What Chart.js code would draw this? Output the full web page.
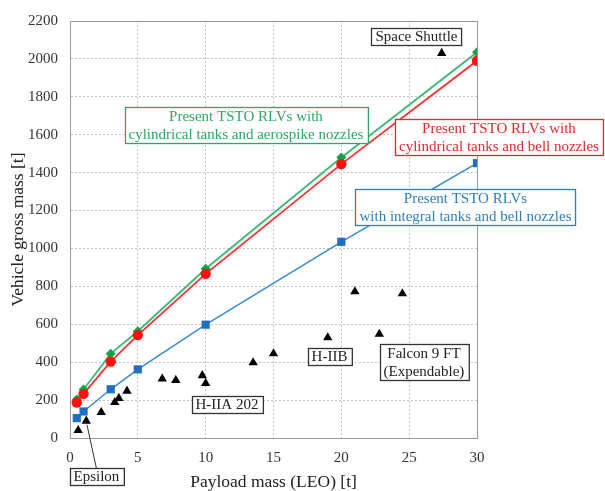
<!DOCTYPE html>
<html>
<head>
<meta charset="utf-8">
<script src="https://cdn.jsdelivr.net/npm/chart.js@4.4.1/dist/chart.umd.min.js"></script>
<style>
  html, body { margin: 0; padding: 0; background: #fff; }
  #wrap { width: 605px; height: 491px; }
</style>
</head>
<body>
<div id="wrap"><canvas id="c" width="605" height="491"></canvas></div>
<script>
// ---- Data ----
const rlvPayload = [0.5, 1, 3, 5, 10, 20, 30];
const aerospikeCyl = [203, 256, 445, 563, 893, 1480, 2035];
const bellCyl = [187, 233, 403, 543, 866, 1445, 1990];
const bellIntegral = [105, 140, 257, 362, 598, 1035, 1450];

const launcherPayload = [0.6, 1.2, 2.3, 3.3, 3.6, 4.2, 6.8, 7.8, 9.75, 10.0, 13.5, 15.0, 19.0, 21.0, 22.8, 24.5, 27.4];
const launcherGross   = [40, 90, 135, 188, 210, 248, 312, 305, 330, 288, 398, 445, 530, 772, 548, 762, 2030];

const xTicks = [0, 5, 10, 15, 20, 25, 30];
const yTicks = [0, 200, 400, 600, 800, 1000, 1200, 1400, 1600, 1800, 2000, 2200];

const xTitle = 'Payload mass (LEO) [t]';
const yTitle = 'Vehicle gross mass [t]';

// annotation labels: text lines, anchor (data coords of box centre), colour
const labels = [
  { lines: ['Present TSTO RLVs with', 'cylindrical tanks and aerospike nozzles'], x: 12.97, y: 1651, color: '#2aa865' },
  { lines: ['Present TSTO RLVs with', 'cylindrical tanks and bell nozzles'], x: 31.62, y: 1586, color: '#e8262e' },
  { lines: ['Present TSTO RLVs', 'with integral tanks and bell nozzles'], x: 29.15, y: 1221, color: '#2d7fc0' },
  { lines: ['Space Shuttle'], x: 25.54, y: 2116, color: '#111' },
  { lines: ['H-IIA 202'], x: 11.57, y: 178, color: '#111' },
  { lines: ['H-IIB'], x: 19.13, y: 430, color: '#111' },
  { lines: ['Falcon 9 FT', '(Expendable)'], x: 26.09, y: 402, color: '#111' },
  { lines: ['Epsilon'], x: 1.95, y: -202, color: '#111', leader: { x: 1.25, y: 70 } }
];

const serif = '"Liberation Serif", "Times New Roman", serif';
Chart.defaults.font.family = serif;

function pts(xs, ys) { return xs.map((x, i) => ({ x: x, y: ys[i] })); }

const annotPlugin = {
  id: 'annot',
  afterDatasetsDraw(chart) {
    const ctx = chart.ctx;
    const xs = chart.scales.x, ys = chart.scales.y;
    const ca = chart.chartArea;
    // plot border
    ctx.save();
    ctx.strokeStyle = '#9a9a9a';
    ctx.lineWidth = 1;
    ctx.strokeRect(Math.round(ca.left) + 0.5, Math.round(ca.top) + 0.5, Math.round(ca.right - ca.left), Math.round(ca.bottom - ca.top));
    ctx.restore();

    ctx.save();
    ctx.font = '15px ' + serif;
    ctx.textAlign = 'center';
    ctx.textBaseline = 'middle';
    const lh = 18;
    labels.forEach(l => {
      const cx = xs.getPixelForValue(l.x);
      const cy = ys.getPixelForValue(l.y);
      let w = 0;
      l.lines.forEach(t => { w = Math.max(w, ctx.measureText(t).width); });
      const bw = w + 8;
      const bh = l.lines.length * lh - (l.lines.length === 1 ? 1 : 0);
      const bx = Math.round(cx - bw / 2) + 0.5;
      const by = Math.round(cy - bh / 2) + 0.5;
      if (l.leader) {
        ctx.strokeStyle = '#333';
        ctx.lineWidth = 1;
        ctx.beginPath();
        ctx.moveTo(cx, by);
        ctx.lineTo(xs.getPixelForValue(l.leader.x), ys.getPixelForValue(l.leader.y));
        ctx.stroke();
      }
      ctx.fillStyle = '#fff';
      ctx.fillRect(bx, by, bw, bh);
      ctx.strokeStyle = l.color === '#111' ? '#333' : l.color;
      ctx.lineWidth = 1.3;
      ctx.strokeRect(bx, by, bw, bh);
      ctx.fillStyle = l.color === '#111' ? '#222' : l.color;
      l.lines.forEach((t, i) => {
        ctx.fillText(t, cx, by + bh / 2 + (i - (l.lines.length - 1) / 2) * lh + 0.5);
      });
    });
    ctx.restore();
  }
};

const chart = new Chart(document.getElementById('c'), {
  type: 'scatter',
  data: {
    datasets: [
      {
        label: 'Existing launchers',
        data: pts(launcherPayload, launcherGross),
        showLine: false,
        pointStyle: 'triangle',
        pointRadius: 5.4,
        backgroundColor: '#000',
        borderColor: '#000',
        borderWidth: 0
      },
      {
        label: 'Integral tanks, bell nozzles',
        data: pts(rlvPayload, bellIntegral),
        showLine: true,
        borderColor: '#3a8ad0',
        borderWidth: 1.5,
        pointStyle: 'rect',
        pointRadius: 5.8,
        pointBackgroundColor: '#1f6fc4',
        pointBorderColor: '#1f6fc4',
        pointBorderWidth: 0
      },
      {
        label: 'Cylindrical tanks, bell nozzles',
        data: pts(rlvPayload, bellCyl),
        showLine: true,
        borderColor: '#ff3030',
        borderWidth: 1.8,
        pointStyle: 'circle',
        pointRadius: 5.2,
        pointBackgroundColor: '#ff1010',
        pointBorderColor: '#ff1010',
        pointBorderWidth: 0
      },
      {
        label: 'Cylindrical tanks, aerospike nozzles',
        data: pts(rlvPayload, aerospikeCyl),
        showLine: true,
        borderColor: '#3cb878',
        borderWidth: 1.8,
        pointStyle: 'rectRot',
        pointRadius: 5,
        pointBackgroundColor: '#12a048',
        pointBorderColor: '#12a048',
        pointBorderWidth: 0
      }
    ]
  },
  options: {
    responsive: false,
    animation: false,
    devicePixelRatio: 1,
    layout: { padding: { left: 0, right: 128, top: 19, bottom: 0 } },
    plugins: {
      legend: { display: false },
      tooltip: { enabled: false }
    },
    scales: {
      x: {
        type: 'linear',
        min: 0, max: 30,
        afterBuildTicks: s => { s.ticks = xTicks.map(v => ({ value: v })); },
        afterFit: s => { s.height = 53; },
        grid: { color: '#c4c4c4', lineWidth: 1, drawTicks: false },
        border: { display: true, color: '#9a9a9a', dash: [2, 2] },
        ticks: { color: '#333', padding: 11, font: { family: serif, size: 15 }, callback: v => String(v) },
        title: { display: true, text: xTitle, color: '#222', font: { family: serif, size: 17.5, lineHeight: 1 }, padding: { top: 0, bottom: 0 } }
      },
      y: {
        type: 'linear',
        min: 0, max: 2200,
        afterBuildTicks: s => { s.ticks = yTicks.map(v => ({ value: v })); },
        afterFit: s => { s.width = 70; },
        grid: { color: '#c4c4c4', lineWidth: 1, drawTicks: false },
        border: { display: true, color: '#9a9a9a', dash: [2, 2] },
        ticks: { color: '#333', padding: 12, font: { family: serif, size: 15 }, callback: v => String(v) },
        title: { display: true, text: yTitle, color: '#222', font: { family: serif, size: 17.5, lineHeight: 1 }, padding: { top: 10, bottom: 0 } }
      }
    }
  },
  plugins: [annotPlugin]
});
</script>
</body>
</html>
